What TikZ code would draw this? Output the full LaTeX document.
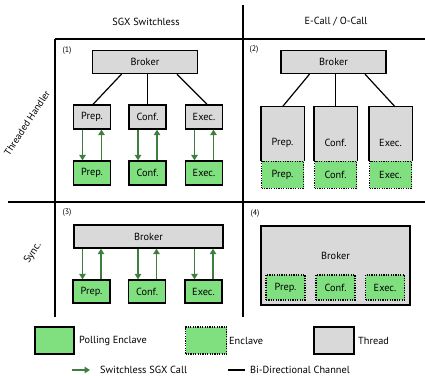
\documentclass[tikz,border=0pt]{standalone}
\usepackage{fontspec}
\setmainfont{PT Sans}
\usetikzlibrary{arrows.meta,calc}
\definecolor{encg}{HTML}{80E080}
\definecolor{arrg}{HTML}{3E7E3E}
\definecolor{thr}{HTML}{D9D9D9}
\begin{document}
\begin{tikzpicture}[x=1pt,y=-1pt,
 txt/.style={font=\fontsize{10.3}{11}\selectfont},
 base/.style={txt, line width=1.3pt, inner sep=0pt},
 thread/.style={base, draw, fill=thr},
 tfill/.style={base, fill=thr},
 penc/.style={base, draw, fill=encg},
 denc/.style={base, draw, fill=encg, dash pattern=on 1.2pt off 1.2pt},
 arr/.style={draw=arrg, line width=1.3pt, -{Triangle[length=5.5pt,width=6.5pt]}},
 chan/.style={line width=1.2pt},
 gridline/.style={line width=1.2pt},
 lbl/.style={txt, inner sep=0pt},
 num/.style={font=\fontsize{8}{9}\selectfont, inner sep=0pt},
]
\useasboundingbox (0,0) rectangle (425,375);

% grid
\draw[gridline] (55,39) -- (425,39);
\draw[gridline] (8,202) -- (425,202);
\draw[gridline] (55,39) -- (55,317);
\draw[gridline] (243,5) -- (243,317);

% headers
\node[lbl] (h1) at (146,22) {SGX Switchless};
\node[lbl] (h2) at (336,22) {E-Call / O-Call};
\node[lbl, rotate=57, font=\fontsize{9.8}{11}\selectfont] (r1) at (27,123) {Threaded Handler};
\node[lbl, rotate=57] (r2) at (33,253) {Sync.};

% panel numbers
\node[num] (n1) at (67,51) {(1)};
\node[num] (n2) at (254,50) {(2)};
\node[num] (n3) at (67,213) {(3)};
\node[num] (n4) at (255,214) {(4)};

% ---------- panel 1
\node[thread, minimum width=105, minimum height=23] (b1) at (145,62) {Broker};
\foreach \n/\t/\x in {p/Prep./92, c/Conf./147.5, e/Exec./204}{
  \node[thread, minimum width=37, minimum height=24] (t1\n) at (\x,117) {\t};
  \node[penc, minimum width=37, minimum height=24] (e1\n) at (\x,173) {\t};
  \draw[arr] ($(t1\n.south)+(-9.5,0)$) -- ($(e1\n.north)+(-9.5,0)$);
  \draw[arr] ($(e1\n.north)+(9.5,0)$) -- ($(t1\n.south)+(9.5,0)$);
}
\draw[chan] ($(b1.south)+(-23.5,0)$) -- ($(t1p.north)+(1,0)$);
\draw[chan] (t1c.north |- b1.south) -- (t1c.north);
\draw[chan] ($(b1.south)+(32,0)$) -- ($(t1e.north)+(3,0)$);

% ---------- panel 2
\node[thread, minimum width=105, minimum height=23] (b2) at (333.5,62) {Broker};
\foreach \n/\t/\x in {p/Prep./282.5, c/Conf./335.5, e/Exec./390.5}{
  \node[tfill, minimum width=42, minimum height=81, anchor=north] (t2\n) at (\x,106.7) {};
  \node[denc, minimum width=42, minimum height=27, anchor=south] (e2\n) at (t2\n.south) {\t};
  \draw[line width=1.3pt] (e2\n.north west) -- (t2\n.north west) -- (t2\n.north east) -- (e2\n.north east);
  \node[lbl] (l2\n) at ($(t2\n.north)+(0,36.5)$) {\t};
}
\draw[chan] ($(b2.south)+(-24,0)$) -- (t2p.north);
\draw[chan] (t2c.north |- b2.south) -- (t2c.north);
\draw[chan] ($(b2.south)+(31.5,0)$) -- ($(t2e.north)+(4.5,0)$);

% ---------- panel 3
\node[thread, minimum width=149, minimum height=23] (b3) at (148.5,236.5) {Broker};
\foreach \n/\t/\x in {p/Prep./91.5, c/Conf./147, e/Exec./203.5}{
  \node[penc, minimum width=37, minimum height=23] (e3\n) at (\x,291.5) {\t};
  \draw[arr] ($(e3\n.north |- b3.south)+(-9,0)$) -- ($(e3\n.north)+(-9,0)$);
  \draw[arr] ($(e3\n.north)+(9.5,0)$) -- ($(e3\n.north |- b3.south)+(9.5,0)$);
}

% ---------- panel 4
\node[thread, minimum width=149, minimum height=79] (b4) at (335.5,265.5) {};
\node[lbl] (b4l) at ($(b4.north)+(0,31)$) {Broker};
\foreach \n/\t/\x in {p/Prep./285.5, c/Conf./335.5, e/Exec./385}{
  \node[denc, minimum width=39, minimum height=25] (e4\n) at (\x,287.5) {\t};
}

% ---------- legend
\node[penc, minimum width=39, minimum height=27] (lg1) at (54.5,340.5) {};
\node[lbl, anchor=west] (lt1) at (79,341) {Polling Enclave};
\node[denc, minimum width=41, minimum height=27] (lg2) at (206,340.5) {};
\node[lbl, anchor=west] (lt2) at (229,341) {Enclave};
\node[thread, minimum width=40, minimum height=27] (lg3) at (334,340.5) {};
\node[lbl, anchor=west] (lt3) at (358,341) {Thread};

\coordinate (la1) at (72,370);
\coordinate (la2) at (90,370);
\draw[arr] (la1) -- (la2);
\node[lbl, anchor=west] (lt4) at (100,369.5) {Switchless SGX Call};
\coordinate (lc1) at (228,370);
\coordinate (lc2) at (245,370);
\draw[chan] (lc1) -- (lc2);
\node[lbl, anchor=west] (lt5) at (250,369.5) {Bi-Directional Channel};
\end{tikzpicture}
\end{document}
